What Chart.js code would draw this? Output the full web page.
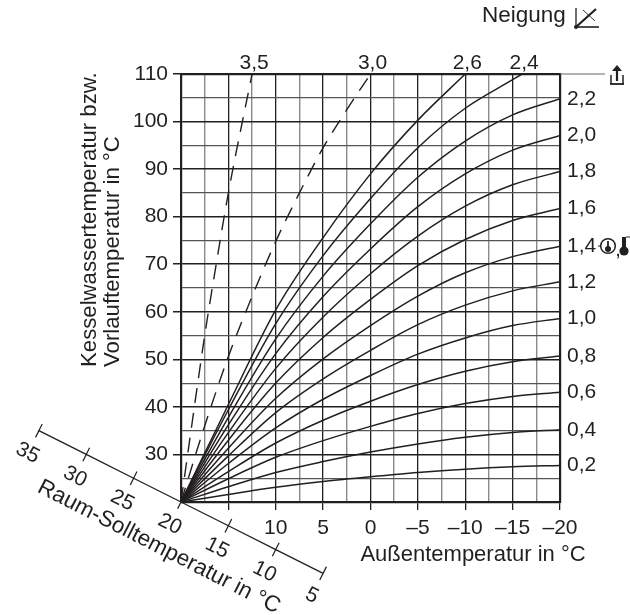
<!DOCTYPE html>
<html>
<head>
<meta charset="utf-8">
<script src="https://cdn.jsdelivr.net/npm/chart.js@4/dist/chart.umd.min.js"></script>
<style>
  html, body { margin: 0; background: #fff; }
  canvas { display: block; }
</style>
</head>
<body>
<canvas id="chart" width="630" height="615"></canvas>
<script>
// Außentemperatur stops at which the curves were read
const outsideTemps = [20, 15, 10, 5, 0, -5, -10, -15, -20];
const neigung24Temps = [20, 15, 10, 5, 0, -5, -10, -15, -16];
const neigung26Temps = [20, 15, 10, 5, 0, -5, -10];
const neigung30Temps = [20, 17.5, 15, 12.5, 10, 7.5, 5, 2.5, 0];
const neigung35Temps = [20, 19, 17.5, 16.5, 15, 12.5];

// Vorlauftemperatur per Neigung
const neigung02 = [20, 21.6, 23.1, 24.3, 25.3, 26.2, 26.9, 27.4, 27.7];
const neigung04 = [20, 23.2, 26.2, 28.5, 30.5, 32.2, 33.6, 34.6, 35.2];
const neigung06 = [20, 24.9, 29.4, 32.9, 35.9, 38.6, 40.7, 42.2, 43.1];
const neigung08 = [20, 26.4, 32.4, 37.2, 41.2, 44.7, 47.5, 49.5, 50.7];
const neigung10 = [20, 28.1, 35.6, 41.6, 46.6, 51.1, 54.5, 57.1, 58.6];
const neigung12 = [20, 29.7, 38.8, 45.9, 51.9, 57.3, 61.4, 64.4, 66.3];
const neigung14 = [20, 31.3, 41.8, 50.1, 57.1, 63.3, 68.2, 71.6, 73.8];
const neigung16 = [20, 33, 45, 54.6, 62.6, 69.7, 75.2, 79.2, 81.7];
const neigung18 = [20, 34.6, 48.1, 58.9, 68, 75.9, 82.2, 86.7, 89.5];
const neigung20 = [20, 36.2, 51.2, 63.2, 73.2, 82.1, 89, 94, 97.1];
const neigung22 = [20, 37.8, 54.3, 67.5, 78.5, 88.3, 95.9, 101.4, 104.8];
const neigung24 = [20, 39.4, 57.5, 71.8, 83.8, 94.5, 102.8, 108.8, 110];
const neigung26 = [20, 40.5, 60.4, 75.6, 89, 100.3, 110];
const neigung30 = [20, 36, 50.6, 63.2, 74.8, 85, 94.5, 102.5, 110];
const neigung35 = [20, 34.2, 55, 67.4, 85, 110];

// labels and ticks
const rightLabels = ["2,2", "2,0", "1,8", "1,6", "1,4", "1,2", "1,0", "0,8", "0,6", "0,4", "0,2"];
const rightValues = [104.8, 97.1, 89.5, 81.7, 73.8, 66.3, 58.6, 50.7, 43.1, 35.2, 27.7];
const topLabels = ["3,5", "3,0", "2,6", "2,4"];
const topValues = [12.5, 0, -10, -16];
const bottomLabels = [10, 5, 0, -5, -10, -15, -20];
const roomTemps = [35, 30, 25, 20, 15, 10, 5];

const INK = "#231f20";
const FONT = "Liberation Sans";

function curve(temps, values, dashed) {
  return {
    data: temps.map((t, i) => ({ x: t, y: values[i] })),
    borderColor: INK,
    borderWidth: dashed ? 1.4 : 1.5,
    borderDash: dashed ? [15, 10] : [],
    pointRadius: 0,
    showLine: true,
    cubicInterpolationMode: "monotone"
  };
}

function text(ctx, str, x, y, size, angle, align) {
  ctx.save();
  ctx.translate(x, y);
  ctx.rotate((angle || 0) * Math.PI / 180);
  ctx.font = size + "px '" + FONT + "'";
  ctx.fillStyle = INK;
  ctx.textAlign = align || "center";
  ctx.textBaseline = "middle";
  ctx.fillText(str, 0, 0);
  ctx.restore();
}

function seg(ctx, x1, y1, x2, y2, w) {
  ctx.lineWidth = w;
  ctx.beginPath();
  ctx.moveTo(x1, y1);
  ctx.lineTo(x2, y2);
  ctx.stroke();
}

const extras = {
  id: "extras",
  afterDraw(chart) {
    const ctx = chart.ctx;
    const sx = chart.scales.x, sy = chart.scales.y;
    ctx.save();
    ctx.strokeStyle = INK;
    ctx.fillStyle = INK;

    // Raum-Soll scale: ticks and numbers along the slanted line
    const ang = Math.atan2(sy.getPixelForValue(5) - sy.getPixelForValue(35),
                           sx.getPixelForValue(5) - sx.getPixelForValue(35));
    const nx = -Math.sin(ang), ny = Math.cos(ang);
    roomTemps.forEach(r => {
      const px = sx.getPixelForValue(r), py = sy.getPixelForValue(r);
      const up = r === 20 ? 0 : 7.5;
      seg(ctx, px - nx * up, py - ny * up, px + nx * 7.5, py + ny * 7.5, 1.2);
      text(ctx, String(r), px + nx * 25, py + ny * 25, 21, ang * 180 / Math.PI);
    });

    text(ctx, "Raum-Solltemperatur in °C", 159, 547, 22.5, 27);
    text(ctx, "Außentemperatur in °C", 473, 555, 22);
    text(ctx, "Kesselwassertemperatur bzw.", 90, 367, 22.2, -90, "left");
    text(ctx, "Vorlauftemperatur in °C", 113, 367, 22.2, -90, "left");
    text(ctx, "Neigung", 482, 16, 22.5, 0, "left");

    // Neigung icon
    seg(ctx, 576, 8, 576, 27, 1.3);
    seg(ctx, 575, 27, 599, 27, 1.6);
    seg(ctx, 576, 27, 596, 9, 2.2);
    seg(ctx, 583, 10, 595, 21, 0.9);
    ctx.beginPath();
    ctx.arc(576, 27, 2, 0, Math.PI * 2);
    ctx.fill();

    // top line running out to the arrow icon
    const ca = chart.chartArea;
    ctx.strokeStyle = "#666";
    seg(ctx, ca.right, ca.top, 605, ca.top, 1);
    ctx.strokeStyle = INK;
    seg(ctx, 611, 75, 611, 84, 1.5);
    seg(ctx, 610, 84, 624, 84, 1.8);
    seg(ctx, 623, 75, 623, 84, 1.5);
    seg(ctx, 617, 68, 617, 81, 2.2);
    ctx.beginPath();
    ctx.moveTo(612, 71);
    ctx.lineTo(617, 65);
    ctx.lineTo(622, 71);
    ctx.closePath();
    ctx.fill();

    // 1,4 marker: clock and thermometer
    seg(ctx, 598, 246, 601, 246, 1);
    ctx.beginPath();
    ctx.arc(608, 246, 7.3, 0, Math.PI * 2);
    ctx.lineWidth = 1.5;
    ctx.stroke();
    seg(ctx, 608, 241, 608, 248, 1.8);
    ctx.beginPath();
    ctx.arc(608, 249, 3, 0, Math.PI * 2);
    ctx.fill();
    text(ctx, ",", 618, 250, 20);
    seg(ctx, 624, 237, 624, 250, 4);
    seg(ctx, 626, 237, 630, 237, 1);
    ctx.beginPath();
    ctx.arc(624, 251, 4.6, 0, Math.PI * 2);
    ctx.fill();

    ctx.restore();
  }
};

new Chart(document.getElementById("chart"), {
  type: "scatter",
  data: {
    datasets: [
      curve(outsideTemps, neigung02),
      curve(outsideTemps, neigung04),
      curve(outsideTemps, neigung06),
      curve(outsideTemps, neigung08),
      curve(outsideTemps, neigung10),
      curve(outsideTemps, neigung12),
      curve(outsideTemps, neigung14),
      curve(outsideTemps, neigung16),
      curve(outsideTemps, neigung18),
      curve(outsideTemps, neigung20),
      curve(outsideTemps, neigung22),
      curve(neigung24Temps, neigung24),
      curve(neigung26Temps, neigung26),
      curve(neigung30Temps, neigung30, true),
      curve(neigung35Temps, neigung35, true),
      {
        // slanted Raum-Soll scale
        data: roomTemps.map(r => ({ x: r, y: r })),
        borderColor: INK,
        borderWidth: 1.3,
        pointRadius: 0,
        showLine: true,
        clip: false
      }
    ]
  },
  options: {
    responsive: false,
    animation: false,
    plugins: { legend: { display: false }, tooltip: { enabled: false } },
    scales: {
      x: {
        type: "linear",
        reverse: true,
        min: -20,
        max: 20,
        afterFit: s => { s.height = 113; },
        border: { color: INK, width: 2.2 },
        grid: {
          color: c => c.tick.value % 5 === 0 ? INK : "#8a8a8a",
          lineWidth: c => c.tick.value % 5 === 0 ? 1.3 : 1.4,
          tickLength: 8,
          tickColor: c => bottomLabels.includes(c.tick.value) || c.tick.value === 15 ? INK : "rgba(0,0,0,0)"
        },
        ticks: {
          stepSize: 2.5,
          autoSkip: false,
          maxRotation: 0,
          padding: 6,
          color: INK,
          font: { family: FONT, size: 21 },
          callback: v => bottomLabels.includes(v) ? String(v).replace("-", "–") : ""
        }
      },
      y: {
        min: 20,
        max: 110,
        afterFit: s => { s.width = 181; },
        border: { color: INK, width: 2.2 },
        grid: {
          color: c => c.tick.value % 10 === 0 ? INK : "#555",
          lineWidth: c => c.tick.value % 10 === 0 ? 1.5 : 1.2,
          tickLength: 8,
          tickColor: c => c.tick.value % 10 === 0 && c.tick.value > 20 ? INK : "rgba(0,0,0,0)"
        },
        ticks: {
          stepSize: 5,
          autoSkip: false,
          padding: 5,
          color: INK,
          font: { family: FONT, size: 21 },
          callback: v => v % 10 === 0 && v > 20 ? String(v) : ""
        }
      },
      top: {
        type: "linear",
        position: "top",
        reverse: true,
        min: -20,
        max: 20,
        afterFit: s => { s.height = 74; },
        afterBuildTicks: s => { s.ticks = topValues.map(v => ({ value: v })); },
        border: { color: INK, width: 2.2 },
        grid: { display: false, drawTicks: false },
        ticks: {
          autoSkip: false,
          maxRotation: 0,
          padding: -2,
          labelOffset: 2,
          color: INK,
          font: { family: FONT, size: 21 },
          callback: (v, i) => topLabels[i]
        }
      },
      right: {
        position: "right",
        min: 20,
        max: 110,
        afterFit: s => { s.width = 70; },
        afterBuildTicks: s => { s.ticks = rightValues.map(v => ({ value: v })); },
        border: { color: INK, width: 2.2 },
        grid: { display: false, drawTicks: false },
        ticks: {
          autoSkip: false,
          padding: 7,
          color: INK,
          font: { family: FONT, size: 21 },
          callback: (v, i) => rightLabels[i]
        }
      }
    }
  },
  plugins: [extras]
});
</script>
</body>
</html>
